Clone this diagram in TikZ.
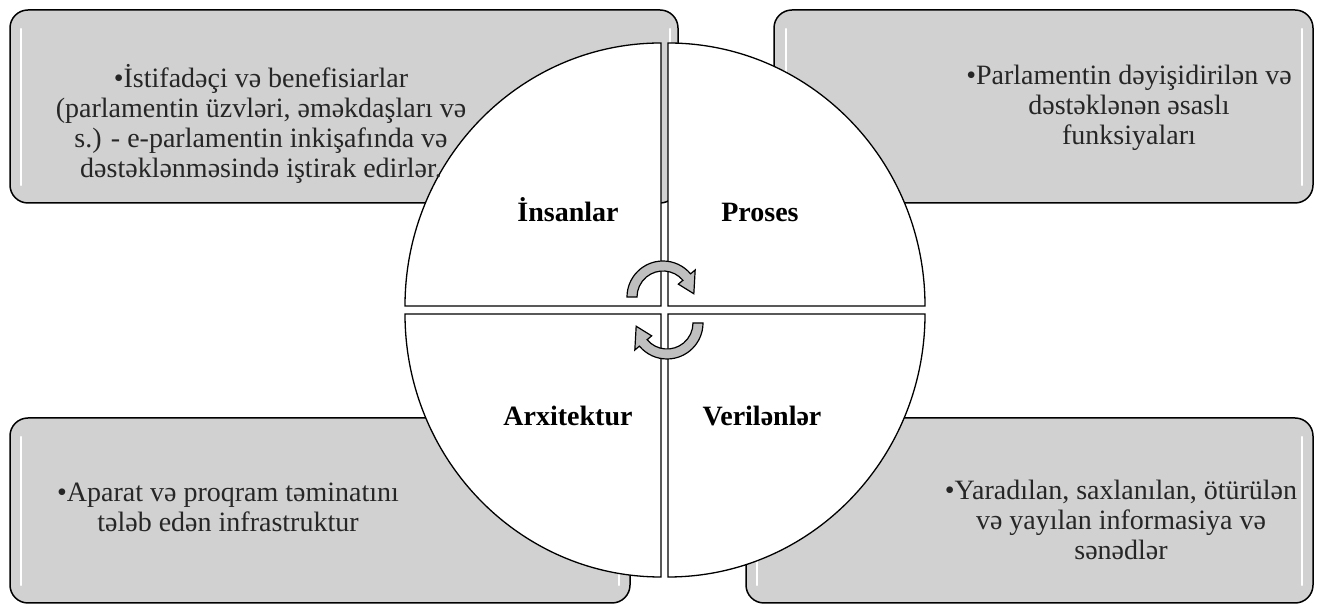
\documentclass[tikz,border=0pt]{standalone}
\usepackage{fontspec}
\setmainfont{Liberation Serif}
\usetikzlibrary{positioning}

\tikzset{
  infobox/.style={draw=black,line width=1.5pt,fill=black!18,rounded corners=18pt},
  shine/.style={white,line width=2.5pt,line cap=round},
  part/.style={draw=black,line width=1.3pt,fill=white},
  boxtext/.style={align=center,font=\fontsize{28}{30}\selectfont,text=black!85},
  partlabel/.style={anchor=base,font=\fontsize{28}{30}\selectfont\bfseries},
  cyclearrow/.pic={
    \filldraw[fill=black!25,draw=black,line width=1.2pt]
      (180:36) arc[start angle=180,end angle=40,radius=36] -- (40:42) -- (6:31)
      -- (40:20) -- (40:26) arc[start angle=40,end angle=180,radius=26] -- cycle;
  }
}

\begin{document}
\begin{tikzpicture}[x=1pt,y=1pt]
  \useasboundingbox (0,0) rectangle (1320,607);

  % corner boxes
  \draw[infobox] (10,404) rectangle (678,597);
  \draw[infobox] (774,404) rectangle (1313,597);
  \draw[infobox] (10,4) rectangle (630,189);
  \draw[infobox] (746,4) rectangle (1313,189);
  \draw[shine] (21,422) -- (21,578);
  \draw[shine] (670,560) -- (670,578);
  \draw[shine] (786,422) -- (786,578);
  \draw[shine] (1302,422) -- (1302,578);
  \draw[shine] (21,22) -- (21,170);
  \draw[shine] (619,22) -- (619,40);
  \draw[shine] (757,22) -- (757,170);
  \draw[shine] (1302,22) -- (1302,170);

  % the four parts of the circle
  \filldraw[part] (661,301) -- (661,564) arc[start angle=90,end angle=180,x radius=256,y radius=263] -- cycle;
  \filldraw[part] (668,301) -- (925,301) arc[start angle=0,end angle=90,x radius=257,y radius=263] -- cycle;
  \filldraw[part] (661,293) -- (405,293) arc[start angle=180,end angle=270,x radius=256,y radius=263] -- cycle;
  \filldraw[part] (668,293) -- (668,30) arc[start angle=270,end angle=360,x radius=257,y radius=263] -- cycle;

  \pic at (663,310) {cyclearrow};
  \pic[rotate=180] at (667,284) {cyclearrow};

  \node[partlabel] (people) at (568,385) {İnsanlar};
  \node[partlabel] (process) at (760,385) {Proses};
  \node[partlabel] (arch) at (568,181) {Arxitektur};
  \node[partlabel] (data) at (762,181) {Verilənlər};

  \node[boxtext] (peopletxt) at (261,483) {•İstifadəçi və benefisiarlar\\(parlamentin üzvləri, əməkdaşları və\\s.) - e-parlamentin inkişafında və\\dəstəklənməsində iştirak edirlər.};
  \node[boxtext] (processtxt) at (1129,499) {•Parlamentin dəyişidirilən və\\dəstəklənən əsaslı\\funksiyaları};
  \node[boxtext] (archtxt) at (228,100) {•Aparat və proqram təminatını\\tələb edən infrastruktur};
  \node[boxtext] (datatxt) at (1121,87) {•Yaradılan, saxlanılan, ötürülən\\və yayılan informasiya və\\sənədlər};
\end{tikzpicture}
\end{document}
